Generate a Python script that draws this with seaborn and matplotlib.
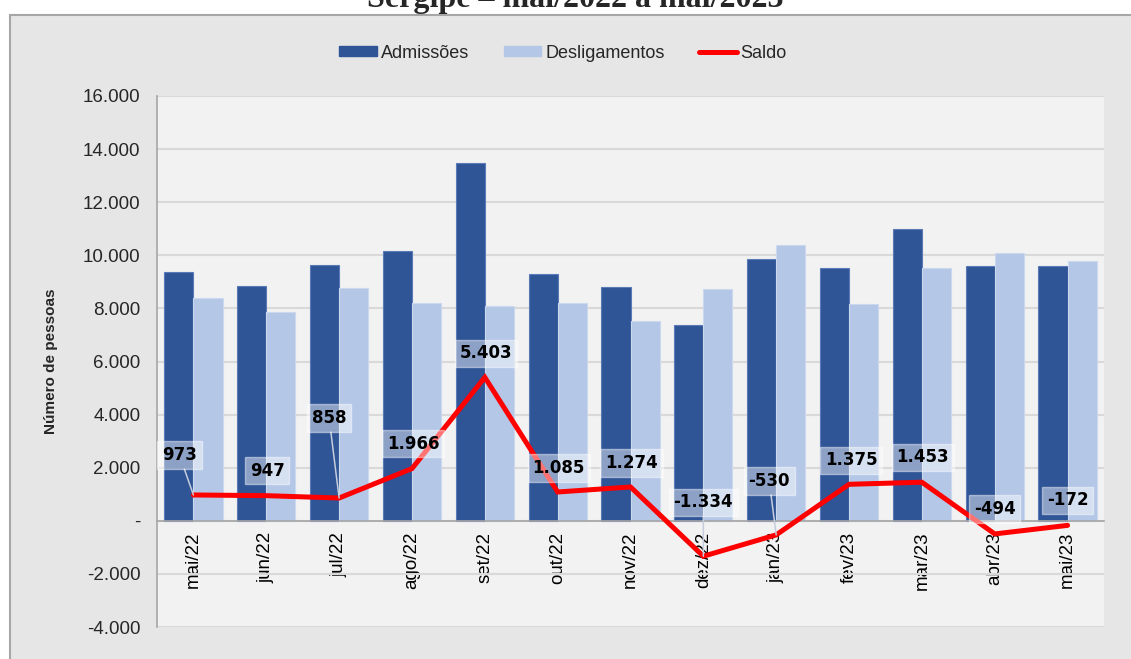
import matplotlib
matplotlib.use("Agg")
import matplotlib.pyplot as plt
import numpy as np
import pandas as pd
import seaborn as sns
from matplotlib.lines import Line2D
from matplotlib.patches import Patch, Rectangle
from matplotlib.ticker import FixedLocator, FuncFormatter

# Data
meses = ["mai/22", "jun/22", "jul/22", "ago/22", "set/22", "out/22", "nov/22",
         "dez/22", "jan/23", "fev/23", "mar/23", "abr/23", "mai/23"]
admissoes = [9380, 8830, 9630, 10175, 13480, 9290, 8808, 7385, 9870, 9525, 10980, 9605, 9605]
desligamentos = [8407, 7883, 8772, 8209, 8077, 8205, 7534, 8719, 10400, 8150, 9527, 10099, 9777]
saldo = [973, 947, 858, 1966, 5403, 1085, 1274, -1334, -530, 1375, 1453, -494, -172]
series = ["Admissões", "Desligamentos", "Saldo"]
titulo = "Sergipe – mai/2022 a mai/2023"
y_label = "Número de pessoas"

# label placement (pixel offsets from the point) and which ones get leader lines
label_offsets = [(-14, 40), (1, 25), (-10, 80), (1, 25), (1, 24), (1, 24), (1, 24),
                 (0, 54), (-7, 54), (2, 24), (1, 25), (0, 25), (0, 25)]
leader = [True, False, True, False, False, False, False, True, True, False, False, False, False]

DARK = "#2F5597"
LIGHT = "#B4C7E7"
RED = "#FF0000"

sns.set_style("white")
plt.rcParams["font.family"] = ["Liberation Sans", "DejaVu Sans"]

df = pd.DataFrame({
    "mes": meses * 2,
    "valor": admissoes + desligamentos,
    "serie": [series[0]] * len(meses) + [series[1]] * len(meses),
})

fig = plt.figure(figsize=(11.31, 6.59), dpi=100)
fig.patch.set_facecolor("white")

# outer chart box
fig.patches.append(Rectangle((10 / 1131, -0.05), 1.2, 1.05 - 15 / 659,
                             transform=fig.transFigure, facecolor="#E6E6E6",
                             edgecolor="#A6A6A6", linewidth=1.5, zorder=-10))

ax = fig.add_axes([157 / 1131, 1 - 627 / 659, 947 / 1131, 531 / 659])
ax.set_facecolor("#F2F2F2")

sns.barplot(data=df, x="mes", y="valor", hue="serie", hue_order=series[:2],
            palette=[DARK, LIGHT], saturation=1, width=0.8, gap=0,
            legend=False, ax=ax, zorder=2)
for bar, c in zip(ax.patches, [DARK] * len(meses) + [LIGHT] * len(meses)):
    bar.set_edgecolor("#5B7BB8" if c == DARK else "#CBD8EE")
    bar.set_linewidth(0.8)

x = np.arange(len(meses))
ax.plot(x, saldo, color=RED, linewidth=3.6, solid_joinstyle="miter", zorder=4)

for i, v in enumerate(saldo):
    txt = f"{v:,}".replace(",", ".")
    arrow = dict(arrowstyle="-", color="#C5CDDD", lw=1.1, shrinkA=0, shrinkB=0) if leader[i] else None
    ax.annotate(txt, xy=(i, v), xytext=label_offsets[i], textcoords="offset pixels",
                ha="center", va="center", fontsize=12, fontweight="bold",
                family=["DejaVu Sans"], color="black", zorder=6,
                bbox=dict(boxstyle="square,pad=0.28", facecolor="white", alpha=0.45,
                          edgecolor="white", linewidth=1),
                arrowprops=arrow)

ax.set_xlim(-0.5, len(meses) - 0.5)
ax.set_ylim(-4000, 16000)
ax.yaxis.set_major_locator(FixedLocator(np.arange(-4000, 16001, 2000)))
ax.yaxis.set_major_formatter(FuncFormatter(
    lambda v, p: "-" if v == 0 else f"{int(v):,}".replace(",", ".")))
ax.grid(axis="y", color="#D9D9D9", linewidth=1.5, zorder=0)
ax.set_axisbelow(True)

for s in ["top", "right"]:
    ax.spines[s].set_visible(False)
ax.spines["left"].set_color("#A6A6A6")
ax.spines["left"].set_linewidth(1.2)
ax.spines["bottom"].set_position(("data", 0))
ax.spines["bottom"].set_color("#A6A6A6")
ax.spines["bottom"].set_linewidth(1.2)
ax.spines["bottom"].set_zorder(3)

ax.set_xticks(x)
ax.set_xticklabels(meses, rotation=90, va="top", ha="center")
ax.xaxis.set_minor_locator(FixedLocator(np.arange(-0.5, len(meses), 1.0)))
ax.tick_params(axis="x", which="major", length=0, pad=8, labelsize=13.5, colors="black")
ax.tick_params(axis="x", which="minor", length=4, width=1.2, color="#A6A6A6", direction="out")
ax.tick_params(axis="y", which="major", length=4, width=1.2, color="#A6A6A6",
               labelsize=13.5, pad=8, direction="out")
ax.set_xlabel("")
ax.set_ylabel(y_label, fontsize=11, fontweight="bold")
ax.yaxis.set_label_coords(-0.1045, 0.5)

handles = [Patch(facecolor=DARK, edgecolor=DARK),
           Patch(facecolor=LIGHT, edgecolor=LIGHT),
           Line2D([], [], color=RED, linewidth=3.6)]
fig.legend(handles, series, loc="center", bbox_to_anchor=(563 / 1131, 1 - 53 / 659),
           ncol=3, frameon=False, fontsize=13, handlelength=2.1, handleheight=0.45,
           handletextpad=0.2, columnspacing=1.9)

fig.text(575 / 1131, 1 - 7 / 659, titulo, ha="center", va="baseline",
         family=["Liberation Serif", "DejaVu Serif"], fontweight="bold", fontsize=23)

fig.savefig("out.png", dpi=100, facecolor=fig.get_facecolor())
